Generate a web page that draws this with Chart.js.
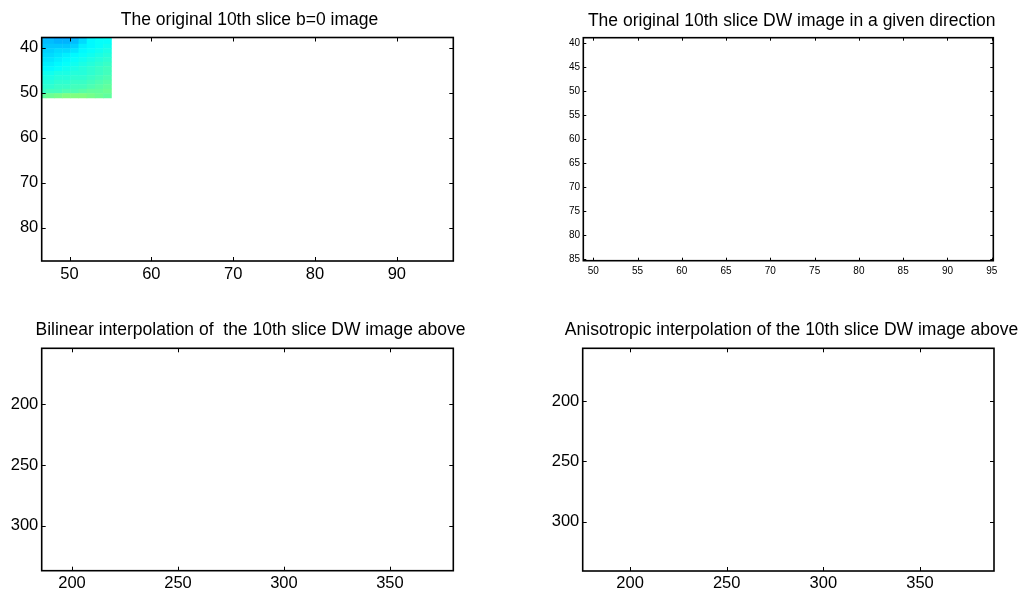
<!DOCTYPE html>
<html><head><meta charset="utf-8">
<script src="https://cdn.jsdelivr.net/npm/chart.js@4/dist/chart.umd.min.js"></script>
<style>
html,body{margin:0;padding:0;background:#fff;width:1020px;height:591px;overflow:hidden}
canvas{position:absolute;left:0;top:0}
</style></head><body>
<canvas id="c1" width="1020" height="591"></canvas>
<canvas id="c2" width="1020" height="591"></canvas>
<canvas id="c3" width="1020" height="591"></canvas>
<canvas id="c4" width="1020" height="591"></canvas>
<script>
// ---- titles ----
const titleB0 = "The original 10th slice b=0 image";
const titleDW = "The original 10th slice DW image in a given direction";
const titleBilinear = "Bilinear interpolation of  the 10th slice DW image above";
const titleAniso = "Anisotropic interpolation of the 10th slice DW image above";

// ---- tick labels ----
const b0XTicks = [50, 60, 70, 80, 90];
const b0YTicks = [40, 50, 60, 70, 80];
const dwXTicks = [50, 55, 60, 65, 70, 75, 80, 85, 90, 95];
const dwYTicks = [40, 45, 50, 55, 60, 65, 70, 75, 80, 85];
const bilXTicks = [200, 250, 300, 350];
const bilYTicks = [200, 250, 300];
const aniXTicks = [200, 250, 300, 350];
const aniYTicks = [200, 250, 300];

// ---- visible image cells of the b=0 slice (pixel centres and normalised intensity) ----
const sliceCols = [46.6, 47.6, 48.6, 49.6, 50.6, 51.6, 52.6, 53.6, 54.6];
const sliceRows = [37.6, 38.6, 39.6, 40.6, 41.6, 42.6, 43.6, 44.6, 45.6, 46.6, 47.6, 48.6, 49.6, 50.6];
const sliceValues = [
  [0.30,0.29,0.28,0.28,0.29,0.32,0.36,0.37,0.38],
  [0.31,0.31,0.30,0.30,0.31,0.34,0.37,0.38,0.38],
  [0.32,0.32,0.32,0.32,0.33,0.36,0.37,0.38,0.39],
  [0.33,0.33,0.34,0.34,0.35,0.37,0.38,0.39,0.40],
  [0.34,0.34,0.35,0.36,0.37,0.38,0.39,0.40,0.41],
  [0.35,0.35,0.36,0.37,0.38,0.39,0.40,0.41,0.42],
  [0.36,0.36,0.37,0.38,0.39,0.40,0.41,0.42,0.43],
  [0.37,0.37,0.38,0.39,0.40,0.41,0.42,0.43,0.44],
  [0.39,0.39,0.40,0.40,0.41,0.41,0.42,0.43,0.44],
  [0.40,0.40,0.41,0.41,0.42,0.42,0.43,0.44,0.45],
  [0.41,0.41,0.42,0.42,0.43,0.43,0.44,0.45,0.46],
  [0.42,0.42,0.43,0.43,0.44,0.44,0.45,0.46,0.47],
  [0.43,0.44,0.44,0.45,0.45,0.46,0.47,0.47,0.48],
  [0.47,0.48,0.49,0.50,0.50,0.50,0.49,0.48,0.47]
];

const FONT = '"Liberation Sans", Arial, Helvetica, sans-serif';

function jet(v) {
  v = Math.max(0, Math.min(1, v));
  const c = x => Math.round(255 * Math.max(0, Math.min(1, x)));
  const r = c(1.5 - Math.abs(4 * v - 3));
  const g = c(1.5 - Math.abs(4 * v - 2));
  const b = c(1.5 - Math.abs(4 * v - 1));
  return `rgb(${r},${g},${b})`;
}

const heatPlugin = {
  id: 'heat',
  beforeDatasetsDraw(chart, args, opts) {
    if (!opts || !opts.values) return;
    const {ctx, chartArea: a, scales: {x, y}} = chart;
    ctx.save();
    ctx.beginPath();
    ctx.rect(a.left, a.top, a.right - a.left, a.bottom - a.top);
    ctx.clip();
    opts.rows.forEach((ry, i) => {
      opts.cols.forEach((cx, j) => {
        const x0 = x.getPixelForValue(cx - 0.5), x1 = x.getPixelForValue(cx + 0.5);
        const y0 = y.getPixelForValue(ry - 0.5), y1 = y.getPixelForValue(ry + 0.5);
        ctx.fillStyle = jet(opts.values[i][j]);
        ctx.fillRect(Math.min(x0, x1), Math.min(y0, y1), Math.abs(x1 - x0) + 0.5, Math.abs(y1 - y0) + 0.5);
      });
    });
    ctx.restore();
  }
};

const framePlugin = {
  id: 'frame',
  afterDraw(chart, args, opts) {
    const {ctx, chartArea: a, scales: {x, y}} = chart;
    ctx.save();
    ctx.strokeStyle = '#000';
    ctx.lineWidth = 1;
    const tl = opts.tick;
    ctx.beginPath();
    x.ticks.forEach(t => {
      const px = Math.round(x.getPixelForValue(t.value)) + 0.5;
      ctx.moveTo(px, a.bottom); ctx.lineTo(px, a.bottom - tl);
      ctx.moveTo(px, a.top); ctx.lineTo(px, a.top + tl);
    });
    y.ticks.forEach(t => {
      const py = Math.round(y.getPixelForValue(t.value)) + 0.5;
      ctx.moveTo(a.left, py); ctx.lineTo(a.left + tl, py);
      ctx.moveTo(a.right, py); ctx.lineTo(a.right - tl, py);
    });
    ctx.stroke();
    ctx.lineWidth = 1.6;
    ctx.strokeRect(a.left, a.top, a.right - a.left, a.bottom - a.top);
    // panel title
    ctx.fillStyle = '#000';
    ctx.font = `${opts.titleSize}px ${FONT}`;
    ctx.textAlign = 'center';
    ctx.textBaseline = 'alphabetic';
    ctx.fillText(opts.title, opts.titleX, opts.titleY);
    ctx.restore();
  }
};

function makePanel(id, p) {
  const W = 34, H = 18;
  const [L, T, R, B] = p.area;
  new Chart(document.getElementById(id), {
    type: 'scatter',
    data: {datasets: []},
    options: {
      responsive: false, animation: false, devicePixelRatio: 1,
      layout: {padding: {left: L - W, top: T, right: 1020 - R, bottom: 591 - B - H}},
      plugins: {
        legend: {display: false}, tooltip: {enabled: false}, title: {display: false},
        heat: p.heat || {},
        frame: {tick: p.tick, title: p.title, titleX: p.titleX, titleY: p.titleY, titleSize: 17.5}
      },
      scales: {
        x: {
          type: 'linear', min: p.xr[0], max: p.xr[1],
          grid: {display: false, drawTicks: false}, border: {display: false},
          afterBuildTicks: s => { s.ticks = p.xt.map(v => ({value: v})); },
          afterFit: s => { s.height = H; },
          ticks: {autoSkip: false, maxRotation: 0, minRotation: 0, padding: p.xpad, color: '#000',
                  font: {family: FONT, size: p.fs}, callback: v => String(v)}
        },
        y: {
          type: 'linear', reverse: true, min: p.yr[0], max: p.yr[1],
          grid: {display: false, drawTicks: false}, border: {display: false},
          afterBuildTicks: s => { s.ticks = p.yt.map(v => ({value: v})); },
          afterFit: s => { s.width = W; },
          ticks: {autoSkip: false, padding: p.ypad, color: '#000',
                  font: {family: FONT, size: p.fs}, callback: v => String(v)}
        }
      }
    },
    plugins: [heatPlugin, framePlugin]
  });
}

makePanel('c1', {
  area: [41.7, 37.5, 453.3, 261], xr: [46.6, 96.9], yr: [37.7, 87.4],
  xt: b0XTicks, yt: b0YTicks, fs: 16.5, xpad: 3.5, ypad: 3.4, tick: 4,
  title: titleB0, titleX: 249.5, titleY: 25,
  heat: {cols: sliceCols, rows: sliceRows, values: sliceValues}
});
makePanel('c2', {
  area: [583.3, 37.7, 993.3, 260.7], xr: [48.87, 95.18], yr: [38.83, 85.29],
  xt: dwXTicks, yt: dwYTicks, fs: 10, xpad: 4.5, ypad: 3.3, tick: 3,
  title: titleDW, titleX: 791.7, titleY: 26
});
makePanel('c3', {
  area: [41.7, 348.3, 453.3, 570.7], xr: [185.7, 379.9], yr: [153.8, 337.1],
  xt: bilXTicks, yt: bilYTicks, fs: 16.5, xpad: 2.6, ypad: 3.4, tick: 4,
  title: titleBilinear, titleX: 250.5, titleY: 335
});
makePanel('c4', {
  area: [582.7, 348.3, 994, 571], xr: [175.5, 388.3], yr: [156.3, 340.8],
  xt: aniXTicks, yt: aniYTicks, fs: 16.5, xpad: 2.3, ypad: 3.4, tick: 4,
  title: titleAniso, titleX: 791.5, titleY: 335
});
</script>
</body></html>
